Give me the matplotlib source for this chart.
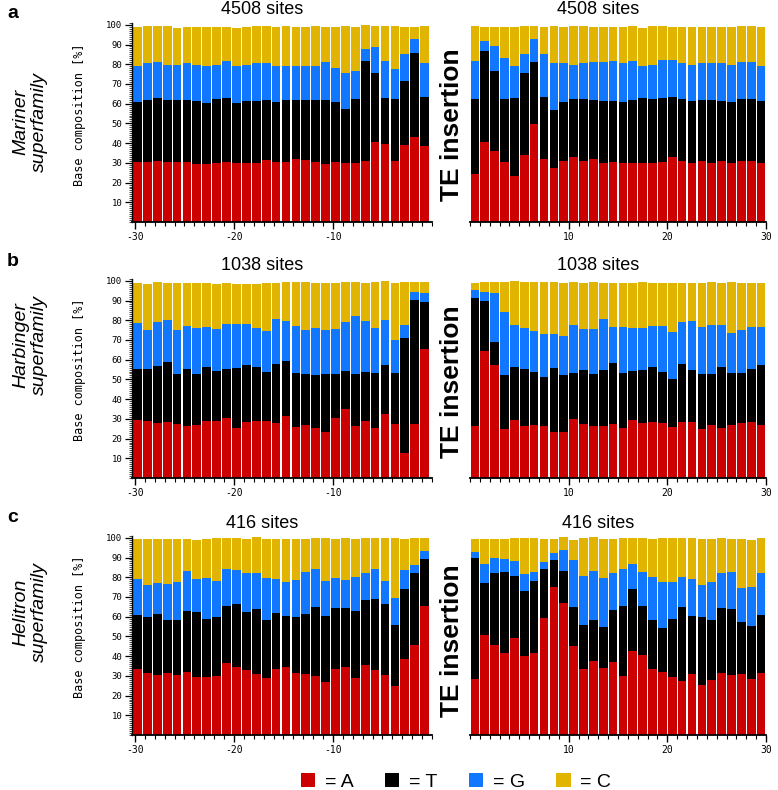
import numpy as np
import matplotlib.pyplot as plt
from matplotlib.patches import Patch
from matplotlib.ticker import MultipleLocator

# cumulative levels: A, A+T, A+T+G, A+T+G+C  (percent)
mariner_up_A = [30.6, 30.6, 31.1, 30.6, 30.6, 30.6, 29.3, 29.3, 29.8, 30.6, 29.8, 30.1, 30.1, 31.5, 30.6,
                30.6, 32.2, 31.3, 30.6, 29.3, 30.6, 29.8, 29.8, 31.1, 40.6, 39.8, 31.1, 39.3, 43.3, 38.3]
mariner_up_AT = [60.8, 61.9, 62.8, 61.9, 61.9, 61.9, 61.4, 60.2, 62.4, 62.9, 60.2, 61.4, 61.4, 61.9, 60.9,
                 61.9, 61.9, 61.9, 61.9, 61.9, 60.9, 57.2, 62.4, 81.7, 75.8, 62.8, 62.4, 71.6, 85.6, 63.3]
mariner_up_ATG = [78.9, 80.5, 80.9, 79.7, 79.7, 80.5, 79.7, 79.2, 79.7, 81.4, 78.9, 79.7, 80.5, 80.5, 79.2,
                  79.2, 78.9, 78.9, 79.2, 80.9, 78.3, 75.8, 76.8, 87.6, 88.7, 81.4, 77.7, 85.3, 92.7, 80.5]
mariner_up_all = [98.8, 99.5, 99.5, 99.5, 98.3, 98.8, 98.8, 98.8, 98.8, 98.8, 98.3, 98.8, 99.5, 99.5, 98.8,
                  99.5, 98.8, 98.8, 99.5, 98.8, 98.8, 99.5, 98.8, 100, 99.5, 99.5, 99.5, 98.8, 98.8, 99.5]

mariner_down_A = [24.4, 40.8, 36.2, 30.6, 23.4, 34.2, 49.8, 32.2, 27.3, 31.1, 32.8, 31.1, 31.8, 30.1, 30.6,
                  29.8, 29.8, 30.1, 30.1, 30.6, 32.8, 31.1, 30.1, 31.1, 30.1, 31.1, 29.8, 31.1, 31.1, 30.1]
mariner_down_AT = [62.3, 86.5, 76.8, 62.3, 62.8, 75.5, 80.9, 63.3, 56.9, 60.9, 62.3, 62.3, 61.9, 61.4, 61.4,
                   60.9, 61.9, 62.8, 62.3, 62.8, 63.3, 62.3, 61.4, 61.9, 61.9, 61.4, 60.9, 62.3, 62.3, 61.4]
mariner_down_ATG = [81.4, 91.9, 89.0, 83.4, 78.9, 85.1, 92.7, 85.1, 80.5, 80.5, 79.7, 80.5, 80.9, 80.9, 81.4,
                    80.5, 81.4, 78.9, 79.7, 81.9, 81.9, 80.5, 79.7, 80.5, 80.5, 80.5, 79.7, 80.9, 80.9, 79.2]
mariner_down_all = [99.5, 98.8, 98.8, 98.8, 98.8, 99.5, 99.5, 98.8, 99.5, 98.8, 99.5, 99.5, 98.8, 98.8, 98.8,
                    98.8, 99.5, 98.3, 99.5, 99.5, 98.8, 98.8, 98.8, 98.8, 98.8, 98.8, 98.8, 99.5, 99.5, 98.8]

harbinger_up_A = [29.4, 28.9, 27.9, 28.4, 27.4, 26.5, 26.9, 28.9, 28.9, 30.4, 25.5, 28.4, 28.9, 28.9, 27.9,
                  31.4, 26.0, 26.9, 25.5, 23.5, 30.4, 34.8, 26.5, 28.9, 25.5, 32.5, 27.4, 12.9, 27.4, 65.4]
harbinger_up_AT = [55.3, 55.3, 56.9, 58.8, 52.9, 55.3, 52.9, 56.3, 54.4, 55.3, 55.8, 57.3, 56.3, 53.9, 57.8,
                   59.3, 53.4, 52.9, 52.4, 52.9, 52.9, 54.4, 52.9, 53.9, 53.4, 57.3, 53.4, 70.8, 90.4, 89.4]
harbinger_up_ATG = [78.4, 75.0, 78.9, 79.9, 75.0, 77.0, 76.0, 76.4, 75.5, 77.9, 77.9, 77.9, 76.0, 74.5, 80.4,
                    79.4, 77.0, 75.0, 76.0, 75.0, 75.5, 78.9, 81.9, 79.4, 76.0, 79.9, 69.9, 77.4, 94.4, 93.9]
harbinger_up_all = [99.0, 98.5, 99.5, 99.0, 99.0, 99.0, 99.0, 99.0, 98.5, 99.0, 98.5, 98.5, 98.5, 99.0, 99.0,
                    99.5, 99.5, 99.5, 99.0, 99.0, 99.0, 99.5, 99.5, 99.0, 99.5, 100, 99.0, 99.5, 99.5, 99.5]

harbinger_down_A = [26.4, 64.4, 57.3, 24.9, 29.4, 26.4, 26.9, 26.4, 23.5, 23.5, 29.9, 27.4, 26.4, 26.4, 27.4,
                    25.5, 29.4, 27.9, 28.4, 27.9, 25.9, 28.4, 28.4, 24.9, 26.9, 25.5, 26.9, 27.9, 28.4, 26.9]
harbinger_down_AT = [91.4, 89.7, 68.9, 52.4, 56.3, 55.3, 53.9, 51.0, 55.9, 52.4, 53.4, 54.7, 52.9, 54.7, 58.3,
                     53.4, 54.4, 54.7, 56.3, 53.9, 50.4, 57.8, 54.7, 52.9, 52.9, 56.3, 53.4, 53.4, 55.3, 57.3]
harbinger_down_ATG = [95.3, 94.4, 93.9, 84.0, 77.4, 76.0, 74.5, 73.0, 73.0, 72.0, 77.4, 75.5, 75.5, 80.4, 76.4,
                      76.4, 76.0, 76.0, 77.0, 77.0, 74.0, 78.9, 79.4, 76.4, 77.4, 77.4, 73.5, 75.0, 76.4, 76.4]
harbinger_down_all = [99.0, 99.5, 99.5, 99.5, 100, 99.5, 99.5, 99.5, 99.5, 99.0, 99.5, 99.0, 99.5, 99.0, 99.0,
                      99.0, 99.0, 99.5, 99.0, 99.0, 99.0, 99.0, 99.0, 99.0, 99.5, 99.0, 99.5, 99.0, 99.0, 99.0]

helitron_up_A = [33.3, 31.3, 30.3, 31.3, 30.3, 31.8, 29.2, 29.2, 29.8, 36.3, 34.3, 32.8, 30.8, 28.7, 33.3,
                 34.3, 31.3, 30.8, 29.8, 26.7, 33.3, 34.3, 28.7, 35.3, 32.8, 30.3, 24.9, 38.4, 45.5, 65.2]
helitron_up_AT = [60.8, 59.8, 61.3, 58.1, 58.5, 62.8, 62.3, 59.0, 59.8, 65.2, 66.2, 62.3, 63.7, 58.1, 61.8,
                  60.3, 59.8, 61.3, 64.7, 60.3, 64.2, 64.2, 62.8, 68.3, 68.8, 66.2, 55.8, 73.8, 82.3, 89.4]
helitron_up_ATG = [78.9, 75.9, 76.9, 76.4, 77.4, 83.3, 78.9, 79.4, 77.9, 84.3, 83.8, 82.4, 82.4, 79.7, 78.9,
                   77.4, 78.4, 82.8, 84.3, 77.9, 79.4, 78.4, 79.9, 81.9, 84.3, 77.9, 69.4, 83.8, 86.3, 93.2]
helitron_up_all = [99.5, 99.5, 99.5, 99.5, 99.5, 99.5, 99.0, 99.5, 100, 100, 100, 99.5, 100.5, 99.5, 99.5,
                   99.5, 99.5, 99.5, 100, 100, 99.5, 100, 99.5, 100, 100, 100, 100, 99.5, 100, 100]

helitron_down_A = [28.2, 50.9, 45.5, 41.4, 49.0, 40.2, 41.4, 59.5, 75.3, 66.7, 45.0, 33.3, 37.4, 33.8, 36.8,
                   29.9, 42.4, 40.4, 33.3, 31.8, 29.2, 27.4, 30.9, 25.5, 27.7, 31.4, 30.6, 30.9, 28.2, 31.4]
helitron_down_AT = [89.7, 76.9, 81.9, 82.9, 80.4, 73.0, 78.0, 84.3, 88.9, 83.3, 64.7, 55.8, 58.3, 54.7, 63.5,
                    65.2, 73.8, 65.2, 58.3, 54.4, 58.8, 64.9, 60.2, 59.8, 58.5, 64.4, 63.9, 57.3, 55.3, 60.8]
helitron_down_ATG = [92.7, 86.7, 89.9, 89.2, 88.2, 81.4, 82.6, 87.8, 92.4, 93.9, 88.9, 80.4, 83.3, 79.4, 82.4,
                     84.0, 86.7, 82.9, 79.9, 77.7, 77.7, 79.9, 78.9, 75.9, 77.7, 81.9, 82.9, 74.3, 74.8, 82.4]
helitron_down_all = [99.5, 99.5, 99.5, 99.5, 100, 100, 100, 99.5, 99.5, 100.5, 99.0, 100, 100.5, 99.5, 99.5,
                     100, 100, 100, 99.5, 100, 100, 100, 100, 99.5, 99.5, 100, 99.5, 99.5, 99.0, 100]

upstream_pos = np.arange(-30, 0)
downstream_pos = np.arange(1, 31)
bases = ['A', 'T', 'G', 'C']
site_counts = ['4508 sites', '1038 sites', '416 sites']
families = ['Mariner', 'Harbinger', 'Helitron']
panel_letters = ['a', 'b', 'c']

COLORS = ['#cc0000', '#000000', '#1177ff', '#e0b400']
W, H = 778.0, 790.0
MONO = 'DejaVu Sans Mono'
SANS = 'Liberation Sans'


def fx(x):
    return x / W


def fy(y):
    return 1 - y / H


def draw_stack(ax, pos, levels):
    levels = np.array(levels)
    bottom = np.vstack([np.zeros(levels.shape[1]), levels[:-1]])
    for i in range(4):
        ax.bar(pos, levels[i] - bottom[i], bottom=bottom[i], width=0.88,
               color=COLORS[i], linewidth=0)


def main():
    fig = plt.figure(figsize=(W / 100, H / 100), dpi=100)

    up = [[mariner_up_A, mariner_up_AT, mariner_up_ATG, mariner_up_all],
          [harbinger_up_A, harbinger_up_AT, harbinger_up_ATG, harbinger_up_all],
          [helitron_up_A, helitron_up_AT, helitron_up_ATG, helitron_up_all]]
    down = [[mariner_down_A, mariner_down_AT, mariner_down_ATG, mariner_down_all],
            [harbinger_down_A, harbinger_down_AT, harbinger_down_ATG, harbinger_down_all],
            [helitron_down_A, helitron_down_AT, helitron_down_ATG, helitron_down_all]]

    # pixel y of zero line, px per percent
    zero_y = [222, 478, 735]
    scale = 1.972
    title_y = [10, 266, 523]
    fam_y = [122, 345, 612]
    te_y = [125, 382, 641]
    base_y = [115, 370, 627]
    letter_y = [13, 262, 518]

    for r in range(3):
        h = 101 * scale
        bot = fy(zero_y[r])
        axl = fig.add_axes([fx(132), bot, 300 / W, h / H])
        axr = fig.add_axes([fx(470), bot, 296 / W, h / H])

        draw_stack(axl, upstream_pos + 0.25, up[r])
        draw_stack(axr, downstream_pos - 0.5, down[r])

        axl.set_xlim(-30.3, 0)
        axr.set_xlim(0, 30)
        for ax in (axl, axr):
            ax.set_ylim(0, 101)
            ax.spines['top'].set_visible(False)
            ax.spines['right'].set_visible(False)
            ax.spines['bottom'].set_linewidth(1.3)
            ax.xaxis.set_minor_locator(MultipleLocator(1))
            ax.tick_params(axis='x', which='major', length=5, width=1, labelsize=7, pad=2)
            ax.tick_params(axis='x', which='minor', length=3, width=0.8)
            for lab in ax.get_xticklabels():
                lab.set_fontfamily(MONO)

        axl.set_xticks([-30, -20, -10])
        axl.set_xticklabels(['-30', '-20', '-10'], fontfamily=MONO, fontsize=7)
        axr.set_xticks([10, 20, 30])
        axr.set_xticklabels(['10', '20', '30'], fontfamily=MONO, fontsize=7)

        axl.spines['left'].set_linewidth(1.0)
        axl.set_yticks(np.arange(10, 101, 10))
        axl.set_yticklabels([str(v) for v in range(10, 101, 10)], fontfamily=MONO, fontsize=6.5)
        axl.yaxis.set_minor_locator(MultipleLocator(1))
        axl.tick_params(axis='y', which='major', length=5, width=0.9, pad=2)
        axl.tick_params(axis='y', which='minor', length=2, width=0.5)

        axr.spines['left'].set_visible(False)
        axr.set_yticks([])

        fig.text(fx(262), fy(title_y[r]), site_counts[r], ha='center', va='center',
                 fontsize=13, fontfamily=SANS)
        fig.text(fx(598), fy(title_y[r]), site_counts[r], ha='center', va='center',
                 fontsize=13, fontfamily=SANS)
        fig.text(fx(452), fy(te_y[r]), 'TE insertion', ha='center', va='center', rotation=90,
                 fontsize=19, fontweight='bold', fontfamily=SANS)
        fig.text(fx(30), fy(fam_y[r]), families[r] + '\nsuperfamily', ha='center', va='center',
                 rotation=90, fontsize=14, style='italic', fontfamily=SANS, linespacing=1.15)
        fig.text(fx(80), fy(base_y[r]), 'Base composition [%]', ha='center', va='center',
                 rotation=90, fontsize=8.5, fontfamily=MONO)
        fig.text(fx(13), fy(letter_y[r]), panel_letters[r], ha='center', va='center',
                 fontsize=14, fontweight='bold', fontfamily=SANS)

    handles = [Patch(facecolor=c, edgecolor='none') for c in COLORS]
    fig.legend(handles, ['= ' + b for b in bases], loc='center', ncol=4,
               bbox_to_anchor=(fx(456), fy(782)), frameon=False,
               prop={'family': SANS, 'size': 14}, handlelength=0.75, handleheight=0.75,
               handletextpad=0.5, columnspacing=1.6)

    fig.savefig('out.png', dpi=100)


if __name__ == '__main__':
    main()
